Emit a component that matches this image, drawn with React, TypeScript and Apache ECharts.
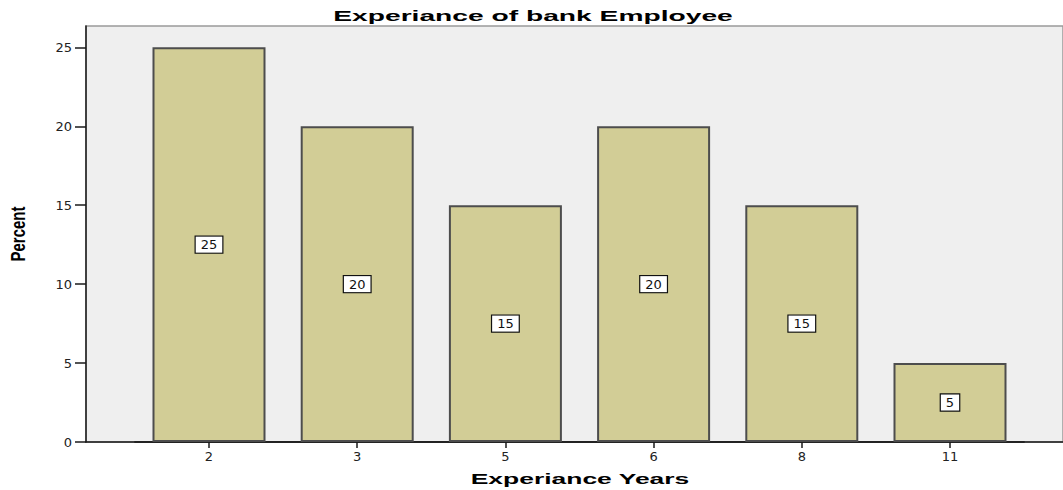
import React, { useEffect, useRef } from "react";
import * as echarts from "echarts";

const categories = ["2", "3", "5", "6", "8", "11"];
const percentValues = [25, 20, 15, 20, 15, 5];
const yTickValues = [0, 5, 10, 15, 20, 25];
const titleText = "Experiance of bank Employee";
const xAxisTitle = "Experiance Years";
const yAxisTitle = "Percent";

const W = 1063;
const H = 490;
const Y_MAX = 26.35;

export default function App() {
  const ref = useRef<HTMLDivElement>(null);

  useEffect(() => {
    document.body.style.margin = "0";
    const chart = echarts.init(ref.current!, null, { renderer: "svg", width: W, height: H });
    const axisFont = "DejaVu Sans";
    const option: any = {
      animation: false,
      backgroundColor: "#ffffff",
      grid: [
        {
          left: 86,
          top: 26,
          right: -3,
          bottom: 48,
          show: true,
          backgroundColor: "#efefef",
          borderColor: "#9a9a9a",
          borderWidth: 1.5,
        },
        { left: 134.9, right: 38.9, top: 26, bottom: 48, show: false },
      ],
      xAxis: [
        {
          type: "value",
          gridIndex: 0,
          min: 0,
          max: 1,
          axisLine: { show: true, onZero: false, lineStyle: { color: "#1a1a1a", width: 1.5 } },
          axisTick: { show: false },
          axisLabel: { show: false },
          splitLine: { show: false },
        },
        {
          type: "category",
          gridIndex: 1,
          data: categories,
          axisLine: { show: true, lineStyle: { color: "#1a1a1a", width: 1.5 } },
          axisTick: { show: true, alignWithLabel: true, length: 6, lineStyle: { color: "#1a1a1a", width: 1.5 } },
          axisLabel: { fontSize: 13, fontFamily: axisFont, color: "#222", margin: 8 },
          splitLine: { show: false },
        },
      ],
      yAxis: [
        {
          type: "value",
          gridIndex: 0,
          min: 0,
          max: Y_MAX,
          axisLine: { show: true, lineStyle: { color: "#1a1a1a", width: 1.5 } },
          axisTick: { show: true, length: 11, customValues: yTickValues, lineStyle: { color: "#1a1a1a", width: 1.5 } },
          axisLabel: { fontSize: 13, fontFamily: axisFont, color: "#222", margin: 14, customValues: yTickValues },
          splitLine: { show: false },
        },
        { type: "value", gridIndex: 1, min: 0, max: Y_MAX, show: false, splitLine: { show: false } },
      ],
      series: [
        {
          type: "bar",
          xAxisIndex: 1,
          yAxisIndex: 1,
          data: percentValues,
          barWidth: 113,
          itemStyle: { color: "#d2cd96", borderColor: "#4d4d4d", borderWidth: 2 },
          label: {
            show: true,
            position: "inside",
            color: "#111",
            fontSize: 13,
            fontFamily: axisFont,
            backgroundColor: "#ffffff",
            borderColor: "#111",
            borderWidth: 1.2,
            padding: [2, 5, 1, 5],
          },
        },
      ],
      graphic: [
        {
          type: "text",
          x: 533,
          y: 16,
          scaleX: 1.88,
          style: {
            text: titleText,
            x: 0,
            y: 0,
            align: "center",
            verticalAlign: "middle",
            font: "bold 15px 'Liberation Sans', Arial, sans-serif",
            fill: "#000",
          },
        },
        {
          type: "text",
          x: 580,
          y: 479,
          scaleX: 1.89,
          style: {
            text: xAxisTitle,
            x: 0,
            y: 0,
            align: "center",
            verticalAlign: "middle",
            font: "bold 14px 'Liberation Sans', Arial, sans-serif",
            fill: "#000",
          },
        },
        {
          type: "text",
          x: 18,
          y: 234,
          rotation: Math.PI / 2,
          scaleY: 1.3,
          style: {
            text: yAxisTitle,
            x: 0,
            y: 0,
            align: "center",
            verticalAlign: "middle",
            font: "bold 15px 'Liberation Sans', Arial, sans-serif",
            fill: "#000",
          },
        },
      ],
    };
    chart.setOption(option);
    return () => chart.dispose();
  }, []);

  return (
    <div
      ref={ref}
      style={{ position: "fixed", left: 0, top: 0, width: W, height: H }}
    />
  );
}
